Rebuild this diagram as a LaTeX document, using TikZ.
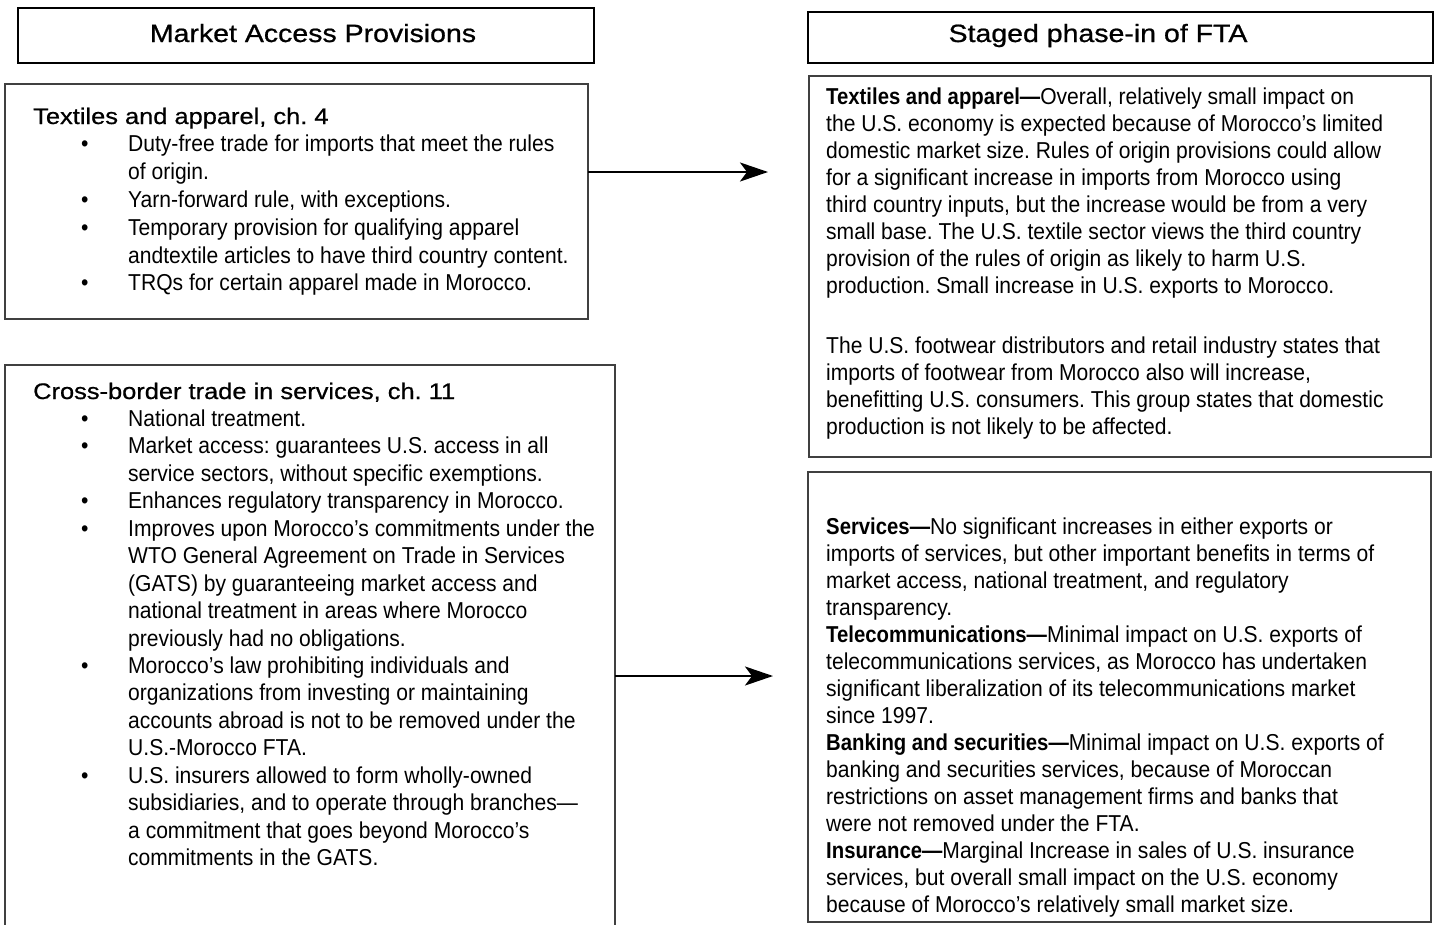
\documentclass[tikz,border=0pt]{standalone}
\usepackage{fontspec}
\setmainfont{Liberation Sans}
\newfontfamily\bodyfont[FakeStretch=0.916,BoldFeatures={FakeStretch=0.883}]{Liberation Sans}
\newfontfamily\hdrfont[FakeStretch=1.14,FakeBold=0.8]{Liberation Sans}
\newfontfamily\subhdrfont[FakeStretch=1.13,FakeBold=0.7]{Liberation Sans}
\usetikzlibrary{arrows.meta}
\frenchspacing
\begin{document}
\begin{tikzpicture}[x=1pt,y=-1pt,
  hdrbox/.style={draw=black, line width=2.6pt, rectangle, inner sep=0pt, outer sep=0pt, anchor=north west},
  contentbox/.style={draw=black!75, line width=2pt, rectangle, inner sep=0pt, outer sep=0pt, anchor=north west},
  hdrtext/.style={inner sep=0pt, anchor=base, font=\hdrfont\fontsize{25}{30}\selectfont},
  lefttext/.style={inner sep=0pt, anchor=base west, font=\bodyfont\fontsize{23}{27.6}\selectfont},
  righttext/.style={inner sep=0pt, anchor=base west, font=\bodyfont\fontsize{23}{27.07}\selectfont},
  linkarrow/.style={draw=black, line width=2.4pt, -{Stealth[length=28pt,width=19pt,inset=7pt]}}]
\useasboundingbox (0,0) rectangle (1434,924);

% header boxes
\node[hdrbox, minimum width=576pt, minimum height=55pt] (hl) at (18,8) {};
\node[hdrbox, minimum width=625pt, minimum height=51pt] (hr) at (808,12) {};
\node[hdrtext] (hlt) at (313,42) {Market Access Provisions};
\node[hdrtext] (hrt) at (1098,42) {Staged phase-in of FTA};

% content boxes
\node[contentbox, minimum width=583pt, minimum height=235pt] (b1) at (5,84) {};
\node[contentbox, minimum width=610pt, minimum height=570pt] (b2) at (5,365) {};
\node[contentbox, minimum width=622pt, minimum height=381pt] (r1) at (809,76) {};
\node[contentbox, minimum width=623pt, minimum height=450pt] (r2) at (808,472) {};

% left texts
\node[lefttext] (b1t) at (33,124) {\renewcommand{\arraystretch}{1}\fontsize{23}{27.8}\selectfont
\begin{tabular}[t]{@{\hspace{48pt}}p{47pt}@{}l@{}}
\multicolumn{2}{@{}l@{}}{\subhdrfont\fontsize{22.5}{27}\selectfont Textiles and apparel, ch. 4}\\
\textbullet & Duty-free trade for imports that meet the rules\\
 & of origin.\\
\textbullet & Yarn-forward rule, with exceptions.\\
\textbullet & Temporary provision for qualifying apparel\\
 & andtextile articles to have third country content.\\
\textbullet & TRQs for certain apparel made in Morocco.
\end{tabular}};

\node[lefttext] (b2t) at (33,399) {\renewcommand{\arraystretch}{1}\fontsize{23}{27.45}\selectfont
\begin{tabular}[t]{@{\hspace{48pt}}p{47pt}@{}l@{}}
\multicolumn{2}{@{}l@{}}{\subhdrfont\fontsize{22.5}{27}\selectfont Cross-border trade in services, ch. 11}\\
\textbullet & National treatment.\\
\textbullet & Market access: guarantees U.S. access in all\\
 & service sectors, without specific exemptions.\\
\textbullet & Enhances regulatory transparency in Morocco.\\
\textbullet & Improves upon Morocco’s commitments under the\\
 & WTO General Agreement on Trade in Services\\
 & (GATS) by guaranteeing market access and\\
 & national treatment in areas where Morocco\\
 & previously had no obligations.\\
\textbullet & Morocco’s law prohibiting individuals and\\
 & organizations from investing or maintaining\\
 & accounts abroad is not to be removed under the\\
 & U.S.-Morocco FTA.\\
\textbullet & U.S. insurers allowed to form wholly-owned\\
 & subsidiaries, and to operate through branches—\\
 & a commitment that goes beyond Morocco’s\\
 & commitments in the GATS.
\end{tabular}};

% right texts
\node[righttext] (r1t) at (826,104) {\renewcommand{\arraystretch}{1}\fontsize{23}{27.05}\selectfont
\begin{tabular}[t]{@{}l@{}}
\textbf{Textiles and apparel—}Overall, relatively small impact on\\
the U.S. economy is expected because of Morocco’s limited\\
domestic market size. Rules of origin provisions could allow\\
for a significant increase in imports from Morocco using\\
third country inputs, but the increase would be from a very\\
small base. The U.S. textile sector views the third country\\
provision of the rules of origin as likely to harm U.S.\\
production. Small increase in U.S. exports to Morocco.\\[33pt]
The U.S. footwear distributors and retail industry states that\\
imports of footwear from Morocco also will increase,\\
benefitting U.S. consumers. This group states that domestic\\
production is not likely to be affected.
\end{tabular}};

\node[righttext] (r2t) at (826,534) {\renewcommand{\arraystretch}{1}\fontsize{23}{27.07}\selectfont
\begin{tabular}[t]{@{}l@{}}
\textbf{Services—}No significant increases in either exports or\\
imports of services, but other important benefits in terms of\\
market access, national treatment, and regulatory\\
transparency.\\
\textbf{Telecommunications—}Minimal impact on U.S. exports of\\
telecommunications services, as Morocco has undertaken\\
significant liberalization of its telecommunications market\\
since 1997.\\
\textbf{Banking and securities—}Minimal impact on U.S. exports of\\
banking and securities services, because of Moroccan\\
restrictions on asset management firms and banks that\\
were not removed under the FTA.\\
\textbf{Insurance—}Marginal Increase in sales of U.S. insurance\\
services, but overall small impact on the U.S. economy\\
because of Morocco’s relatively small market size.
\end{tabular}};

% arrows
\coordinate (a1) at (768,172);
\coordinate (a2) at (773,676);
\draw[linkarrow] (b1.east |- a1) -- (a1);
\draw[linkarrow] (b2.east |- a2) -- (a2);
\end{tikzpicture}
\end{document}
